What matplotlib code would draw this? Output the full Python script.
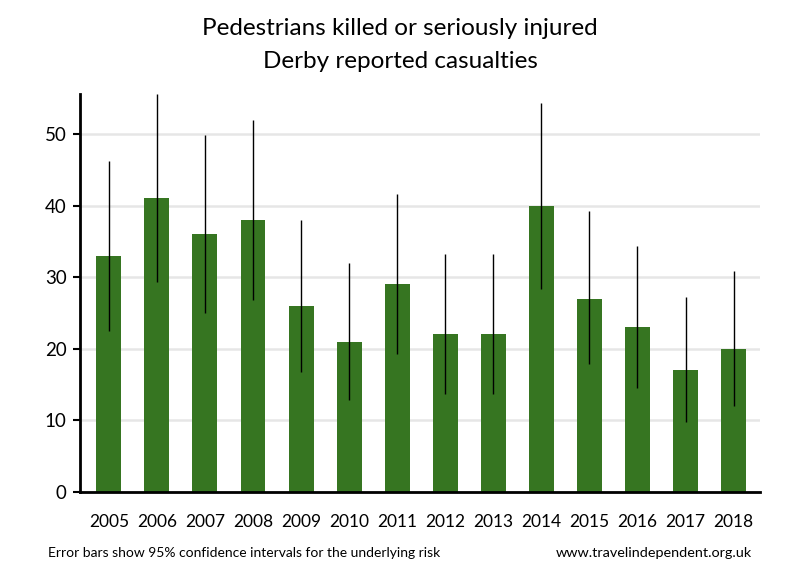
import matplotlib.pyplot as plt
import numpy as np

plt.rcParams['font.family'] = ['Lato', 'DejaVu Sans']

YEARS = ['2005', '2006', '2007', '2008', '2009', '2010', '2011',
         '2012', '2013', '2014', '2015', '2016', '2017', '2018']
CASUALTIES = [33, 41, 36, 38, 26, 21, 29, 22, 22, 40, 27, 23, 17, 20]
CI_LOW = [22.5, 29.3, 25.0, 26.8, 16.8, 12.8, 19.3, 13.7, 13.7, 28.4, 17.8, 14.5, 9.8, 12.0]
CI_HIGH = [46.3, 55.6, 49.9, 52.0, 38.0, 32.0, 41.6, 33.3, 33.3, 54.4, 39.3, 34.4, 27.2, 30.8]

BAR_COLOR = '#367521'

fig = plt.figure(figsize=(8, 5.8), dpi=100)
ax = fig.add_axes([0.1, 0.152, 0.85, 0.686])

x = np.arange(len(YEARS))
ax.bar(x, CASUALTIES, width=0.52, color=BAR_COLOR, zorder=2)
ax.vlines(x, CI_LOW, CI_HIGH, color='black', linewidth=1, zorder=3)

ax.set_xlim(-0.6, 13.55)
ax.set_ylim(0, 55.6)
ax.set_yticks([0, 10, 20, 30, 40, 50])
ax.set_xticks(x)
ax.set_xticklabels(YEARS)
ax.tick_params(axis='x', length=0, pad=16, labelsize=12.5)
ax.tick_params(axis='y', length=5, width=1.5, direction='out', labelsize=13.5, pad=4.5)

ax.yaxis.grid(True, color='#e6e6e6', linewidth=1.8, zorder=0)
ax.set_axisbelow(True)

for side in ['top', 'right']:
    ax.spines[side].set_visible(False)
ax.spines['left'].set_linewidth(2)
ax.spines['bottom'].set_linewidth(2)

fig.text(0.5, 0.951, 'Pedestrians killed or seriously injured', ha='center', va='center', fontsize=17.5)
fig.text(0.5, 0.894, 'Derby reported casualties', ha='center', va='center', fontsize=17.5)

fig.text(0.06, 0.046, 'Error bars show 95% confidence intervals for the underlying risk',
         ha='left', va='center', fontsize=10)
fig.text(0.94, 0.046, 'www.travelindependent.org.uk', ha='right', va='center', fontsize=10.4)

fig.savefig('out.png', dpi=100)
